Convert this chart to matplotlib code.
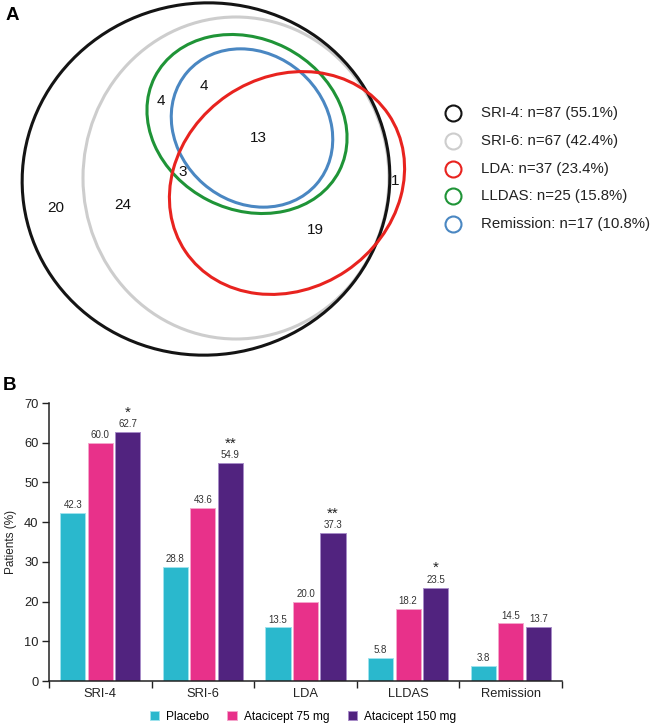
import matplotlib
matplotlib.use("Agg")
import matplotlib.pyplot as plt
from matplotlib.patches import Ellipse
import numpy as np

plt.rcParams['font.family'] = ['Liberation Sans', 'DejaVu Sans']

# ---------------- Data ----------------
venn_sets = ['SRI-4', 'SRI-6', 'LDA', 'LLDAS', 'Remission']
venn_n = [87, 67, 37, 25, 17]
venn_pct = [55.1, 42.4, 23.4, 15.8, 10.8]
venn_colors = ['#141414', '#cdcdcd', '#e8231f', '#1f9437', '#4a87c2']
region_counts = [20, 24, 4, 4, 13, 3, 1, 19]

categories = ['SRI-4', 'SRI-6', 'LDA', 'LLDAS', 'Remission']
placebo = [42.3, 28.8, 13.5, 5.8, 3.8]
ata75 = [60.0, 43.6, 20.0, 18.2, 14.5]
ata150 = [62.7, 54.9, 37.3, 23.5, 13.7]
stars150 = ['*', '**', '**', '*', '']
series_names = ['Placebo', 'Atacicept 75 mg', 'Atacicept 150 mg']
series_colors = ['#2ab8cd', '#e8318a', '#51237f']
edge_colors = ['#9fe3ee', '#f5a6cc', '#a88cc8']
yticks = [0, 10, 20, 30, 40, 50, 60, 70]

W, H = 652, 726
fig = plt.figure(figsize=(W / 100, H / 100), dpi=100)

# ---------------- Panel A: Venn (pixel coordinates) ----------------
axv = fig.add_axes([0, 0, 1, 1])
axv.set_xlim(0, W)
axv.set_ylim(H, 0)
axv.axis('off')

# ellipse geometry: (cx, cy, width, height, angle) in pixel coords (y down)
geom = {
    'SRI-6': (236, 178, 306, 322, 0),
    'SRI-4': (206, 179, 368, 352, -8),
    'LLDAS': (247, 124, 207, 171, 27),
    'Remission': (252, 128, 171, 148, 41),
    'LDA': (287, 183, 245, 212, -34),
}
for name in ['SRI-6', 'SRI-4', 'LLDAS', 'Remission', 'LDA']:
    cx, cy, w, h, a = geom[name]
    col = venn_colors[venn_sets.index(name)]
    axv.add_patch(Ellipse((cx, cy), w, h, angle=a, fill=False,
                          edgecolor=col, lw=2.2))

label_pos = [(56, 208), (123, 205), (161, 101), (204, 86), (258, 138),
             (183, 172), (395, 181), (315, 230)]
for (x, y), c in zip(label_pos, region_counts):
    axv.text(x, y, str(c), ha='center', va='center', fontsize=11, color='#111')

# legend of Venn
for i, (s, n, p, col) in enumerate(zip(venn_sets, venn_n, venn_pct, venn_colors)):
    y = 113 + i * 27.8
    axv.plot([453], [y], marker='o', ms=11.5, mfc='white', mec=col, mew=1.5)
    axv.text(481, y, f"{s}: n={n} ({p}%)", ha='left', va='center',
             fontsize=10.8, color='#222')

axv.text(12, 16, 'A', ha='center', va='center', fontsize=13.5, fontweight='bold')
axv.text(10, 386, 'B', ha='center', va='center', fontsize=13.5, fontweight='bold')

# ---------------- Panel B: bars ----------------
x0, x1, ytop, ybot = 49, 562, 403, 681
axb = fig.add_axes([x0 / W, 1 - ybot / H, (x1 - x0) / W, (ybot - ytop) / H])
axb.patch.set_alpha(0)
x = np.arange(len(categories))
offs = [-0.268, 0, 0.268]
bw = 0.244
for vals, off, col, ec, nm in zip([placebo, ata75, ata150], offs, series_colors,
                                  edge_colors, series_names):
    axb.bar(x + off, vals, width=bw, color=col, edgecolor=ec, lw=0.7, label=nm)
    for xi, v in zip(x + off, vals):
        axb.annotate(f"{v:.1f}", (xi, v), xytext=(0, 2), textcoords='offset points',
                     ha='center', va='bottom', fontsize=7, color='#333')
for xi, v, s in zip(x + offs[2], ata150, stars150):
    if s:
        axb.annotate(s, (xi, v), xytext=(0, 9), textcoords='offset points',
                     ha='center', va='bottom', fontsize=11, color='#222')

axb.set_xlim(-0.5, len(categories) - 0.5)
axb.set_ylim(0, 70)
axb.set_yticks(yticks)
axb.set_xticks(np.arange(len(categories) + 1) - 0.5)
axb.set_xticklabels([''] * (len(categories) + 1))
axb.set_xticks(x, minor=True)
axb.set_xticklabels(categories, minor=True, fontsize=9.3, color='#222')
axb.tick_params(axis='x', which='major', length=5, width=1.0, direction='out', color='#222')
axb.tick_params(axis='x', which='minor', length=0, pad=5)
axb.tick_params(axis='y', length=5, width=1.0, direction='out', labelsize=9.3,
                pad=2.5, color='#222', labelcolor='#222')
for sp in ['top', 'right']:
    axb.spines[sp].set_visible(False)
for sp in ['left', 'bottom']:
    axb.spines[sp].set_linewidth(1.1)
    axb.spines[sp].set_color('#222')
axb.set_ylabel('Patients (%)', fontsize=8.5, color='#222', labelpad=5)

handles, labels = axb.get_legend_handles_labels()
fig.legend(handles, labels, loc='center', bbox_to_anchor=(303 / W, 1 - 717 / H),
           ncol=3, frameon=False, fontsize=8.6, handlelength=0.8, handleheight=0.8,
           handletextpad=0.6, columnspacing=1.5, borderpad=0)

fig.savefig('out.png', dpi=100)
